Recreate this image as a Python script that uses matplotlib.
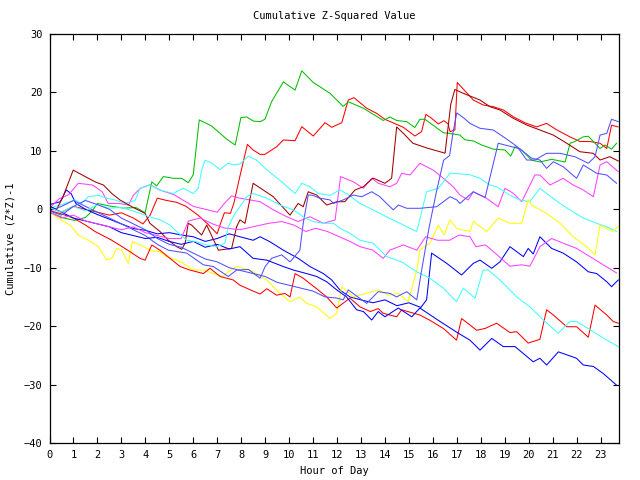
import matplotlib
matplotlib.use("Agg")
import matplotlib.pyplot as plt

# hour of day, cumulative (z*z)-1, one list per trace
green = [(0, -0.5), (0.6, -1.5), (1.05, -1.9), (1.5, -1.4), (1.8, -0.2), (2.0, 1.0), (2.6, 0.5), (3.1, 0.2),
         (3.6, 0.3), (3.78, -0.1), (3.99, -0.6), (4.27, 4.7), (4.47, 4.0), (4.75, 5.6), (5.17, 5.3), (5.52, 5.3),
         (5.79, 4.55), (6.0, 5.9), (6.25, 15.3), (6.77, 14.25), (7.4, 12.0), (7.75, 11.0), (7.99, 15.7), (8.23, 15.8),
         (8.51, 15.1), (8.79, 15.0), (8.99, 15.4), (9.27, 18.4), (9.76, 21.8), (10.25, 20.4), (10.53, 23.7),
         (11.01, 21.7), (11.71, 19.85), (12.26, 17.6), (12.47, 18.4), (13.1, 17.3), (13.93, 15.2), (14.21, 15.8),
         (14.49, 15.2), (14.91, 15.0), (15.25, 14.0), (15.46, 15.4), (15.67, 15.4), (16.44, 13.1), (16.69, 13.0),
         (17.13, 12.7), (17.34, 11.9), (17.69, 11.7), (18.04, 11.0), (18.52, 10.3), (19.01, 10.15), (19.25, 9.1),
         (19.43, 10.7), (19.71, 10.15), (20.12, 8.4), (20.47, 8.1), (20.96, 8.55), (21.52, 8.1), (21.73, 11.3),
         (21.93, 11.6), (22.28, 12.4), (22.49, 12.5), (22.98, 10.4), (23.18, 11.0), (23.46, 10.3), (23.67, 11.3)]

red_hi = [(0, 0.3), (0.5, -0.5), (1.0, 0.5), (1.5, 0.0), (2.0, -0.5), (2.5, -1.0), (3.0, -0.6), (3.5, -1.5),
          (3.9, -2.5), (4.2, -1.0), (4.5, 1.9), (4.9, 1.5), (5.3, 1.2), (5.7, 0.5), (6.2, -1.0), (6.6, -2.5),
          (7.0, -4.2), (7.15, -2.3), (7.3, -0.6), (7.55, -0.7), (7.7, 1.1), (7.85, 3.9), (8.0, 6.6), (8.26, 11.1),
          (8.5, 10.15), (8.79, 9.4), (8.99, 9.4), (9.48, 10.7), (9.76, 11.86), (10.25, 11.74), (10.53, 14.13),
          (11.01, 12.54), (11.5, 14.82), (11.78, 14.03), (12.2, 14.82), (12.47, 18.7), (12.71, 19.1), (13.24, 17.3),
          (13.66, 16.4), (14.0, 15.4), (14.77, 14.03), (15.25, 12.54), (15.53, 13.28), (15.71, 16.25),
          (15.95, 15.57), (16.23, 14.6), (16.46, 15.16), (16.64, 14.6), (16.72, 13.28), (16.92, 13.57),
          (17.02, 21.7), (17.69, 18.7), (18.1, 17.85), (18.52, 17.56), (18.94, 17.0), (19.36, 15.84), (19.85, 14.8),
          (20.33, 14.1), (20.75, 14.7), (21.17, 13.6), (21.72, 12.4), (22.14, 11.6), (22.56, 11.6), (22.98, 11.3),
          (23.26, 10.4), (23.46, 14.4), (23.73, 14.1)]

red_lo = [(0, -0.2), (0.5, -0.8), (1.0, -1.5), (1.5, -2.7), (1.9, -3.8), (2.6, -5.3), (3.15, -6.7), (3.78, -8.4),
          (3.99, -8.7), (4.27, -6.1), (4.61, -7.0), (5.03, -8.4), (5.45, -9.8), (5.86, -10.4), (6.42, -11.0),
          (6.7, -10.1), (7.12, -11.5), (7.67, -12.1), (7.95, -13.0), (8.5, -14.0), (8.79, -14.5), (9.07, -13.6),
          (9.48, -14.7), (9.83, -14.4), (10.04, -15.0), (10.25, -11.0), (10.59, -11.8), (11.15, -13.6),
          (11.57, -15.0), (11.99, -16.9), (12.54, -15.2), (12.96, -16.7), (13.39, -17.5), (13.72, -17.0),
          (13.93, -17.8), (14.49, -18.4), (14.7, -17.2), (15.46, -18.1), (15.88, -19.0), (16.44, -20.4),
          (16.99, -22.4), (17.2, -18.7), (17.55, -19.8), (17.83, -20.7), (18.18, -20.4), (18.66, -19.5),
          (19.22, -21.1), (19.5, -20.95), (19.98, -22.9), (20.47, -22.25), (20.75, -17.2), (21.03, -18.1),
          (21.59, -20.1), (22.0, -20.1), (22.49, -21.9), (22.77, -16.4), (23.26, -18.1), (23.53, -19.2),
          (23.74, -19.5)]

dark_red = [(0, 0.5), (0.3, 0.0), (0.55, 2.0), (0.99, 6.7), (1.9, 4.7), (2.25, 4.15), (2.6, 2.7), (2.94, 1.6),
            (3.5, 0.3), (3.99, -0.7), (4.19, -2.4), (4.61, -3.8), (4.96, -5.3), (5.31, -6.4), (5.52, -6.85),
            (5.66, -5.8), (5.79, -2.4), (5.93, -2.7), (6.35, -4.4), (6.56, -2.7), (7.05, -7.0), (7.6, -6.7),
            (7.81, -3.0), (7.95, -1.8), (8.16, -2.4), (8.5, 4.45), (8.92, 3.3), (9.34, 2.15), (10.04, -1.0),
            (10.38, 1.0), (10.59, 0.44), (10.8, 3.0), (11.15, 2.44), (11.57, 0.73), (11.99, 1.3), (12.33, 1.3),
            (12.75, 3.3), (13.1, 3.86), (13.5, 5.35), (14.0, 4.45), (14.28, 5.3), (14.49, 14.1), (14.77, 13.0),
            (15.17, 11.3), (15.74, 10.5), (16.3, 9.85), (16.51, 9.6), (16.75, 18.0), (16.92, 20.5), (17.3, 19.8),
            (17.97, 18.7), (18.38, 17.56), (18.8, 17.0), (19.36, 15.57), (19.92, 14.42), (20.47, 13.57),
            (21.03, 12.7), (21.59, 11.3), (22.14, 9.85), (22.7, 9.58), (22.98, 8.43), (23.39, 9.0), (23.74, 8.26)]

yellow = [(0, -0.3), (0.35, -1.5), (0.86, -2.7), (1.2, -4.4), (1.62, -5.3), (2.04, -6.4), (2.39, -8.7), (2.6, -8.4),
          (2.8, -6.7), (3.01, -7.0), (3.29, -9.25), (3.46, -5.55), (3.78, -6.1), (4.19, -7.0), (4.61, -7.3),
          (4.89, -8.1), (5.31, -8.7), (5.58, -9.25), (6.0, -10.4), (6.49, -10.4), (6.98, -11.25), (7.25, -11.5),
          (7.46, -10.7), (7.81, -9.8), (8.37, -10.4), (9.07, -12.1), (9.62, -14.4), (10.04, -15.8), (10.45, -15.0),
          (10.73, -16.1), (11.15, -16.7), (11.71, -18.7), (11.99, -17.8), (12.2, -13.25), (12.68, -15.0),
          (13.72, -13.8), (14.14, -14.7), (14.56, -14.4), (14.97, -15.8), (15.33, -10.4), (15.46, -7.0),
          (15.88, -5.8), (16.23, -2.7), (16.47, -4.4), (16.72, -1.8), (17.0, -3.3), (17.55, -3.8), (17.69, -2.1),
          (18.25, -3.8), (18.73, -1.5), (19.22, -2.4), (19.71, -2.4), (19.98, 1.6), (20.13, 0.7), (20.75, -0.7),
          (21.31, -2.4), (21.86, -4.7), (22.42, -6.4), (22.77, -7.8), (22.98, -2.7), (23.26, -3.3), (23.53, -3.8),
          (23.74, -2.9)]

cyan_hi = [(0, 0.2), (0.5, 0.8), (1.06, 1.6), (1.34, 1.0), (1.62, 2.15), (2.04, 2.4), (2.39, 1.9), (2.73, 1.6),
           (3.15, 1.0), (3.57, 1.5), (3.78, 3.6), (4.19, 4.15), (4.61, 3.3), (5.17, 2.7), (5.58, 3.6), (6.0, 2.7),
           (6.21, 3.6), (6.35, 6.7), (6.49, 8.4), (6.77, 7.9), (7.12, 6.8), (7.46, 7.9), (7.67, 7.6), (7.95, 7.75),
           (8.3, 9.1), (8.65, 8.4), (9.0, 7.0), (9.76, 4.45), (10.25, 2.7), (10.53, 4.45), (10.87, 3.86),
           (11.22, 2.7), (11.71, 2.4), (12.12, 3.3), (12.4, 2.7), (12.96, 1.0), (13.51, -0.1), (14.07, -1.3),
           (14.63, -2.4), (15.18, -3.55), (15.33, -3.8), (15.74, 3.0), (16.23, 3.6), (16.72, 6.2), (17.55, 5.9),
           (17.97, 5.3), (18.38, 4.15), (18.66, 3.86), (19.22, 2.4), (19.64, 1.6), (20.05, 1.3), (20.47, 3.6),
           (20.75, 2.7), (21.31, 1.0), (21.72, -0.1), (22.28, -1.5), (22.84, -2.4), (23.26, -3.0), (23.67, -3.8)]

cyan_lo = [(0, 0.3), (0.5, -0.5), (1.0, 0.5), (1.5, -0.3), (2.0, 0.8), (2.5, 0.2), (3.0, 0.3), (3.5, -0.3),
           (3.78, -0.7), (4.19, -1.3), (4.61, -1.8), (5.03, -2.7), (5.31, -3.8), (5.73, -5.3), (6.14, -5.55),
           (6.56, -6.1), (6.98, -6.4), (7.32, -5.8), (7.46, -3.0), (7.74, -0.7), (7.95, 0.44), (8.23, 2.15),
           (8.5, 2.7), (9.07, 1.9), (9.62, 0.73), (10.18, -0.1), (10.59, -1.3), (11.01, -2.1), (11.43, -2.4),
           (11.85, -2.4), (12.12, -3.25), (12.54, -4.1), (12.96, -5.3), (13.51, -5.8), (14.07, -8.1), (14.7, -9.0),
           (15.33, -10.7), (15.88, -11.8), (16.44, -13.5), (16.99, -15.8), (17.27, -13.5), (17.76, -15.2),
           (18.1, -10.4), (18.31, -10.4), (18.8, -12.1), (19.5, -15.0), (20.05, -16.7), (20.61, -18.95),
           (21.24, -21.2), (21.72, -19.2), (22.0, -19.2), (22.7, -20.95), (23.26, -22.4), (23.74, -23.5)]

magenta_hi = [(0, 0.2), (0.4, 1.8), (0.8, 2.5), (1.2, 4.45), (1.8, 4.15), (2.2, 3.0), (2.45, 1.0), (2.9, 1.0),
              (3.3, 0.7), (3.5, 2.4), (3.8, 3.6), (4.2, 4.2), (4.6, 3.3), (5.2, 2.5), (5.6, 1.5), (6.0, 0.5),
              (6.5, 0.0), (7.0, -0.5), (7.3, 1.0), (7.6, 2.3), (7.95, 1.9), (8.37, 1.6), (8.79, 1.3), (9.34, -0.1),
              (9.9, -1.27), (10.38, -2.1), (10.87, -1.27), (11.43, -2.4), (11.92, -1.84), (12.15, 5.6),
              (12.68, 4.7), (13.1, 3.6), (13.45, 5.3), (13.72, 4.45), (14.21, 3.86), (14.49, 4.45), (14.7, 6.16),
              (15.05, 5.87), (15.46, 7.87), (16.02, 6.7), (16.44, 5.3), (16.85, 3.86), (17.13, 2.44), (17.48, 1.6),
              (17.69, 3.0), (18.2, 2.0), (18.73, 0.44), (19.01, 3.6), (19.36, 2.73), (19.71, 1.3), (20.26, 5.87),
              (20.47, 5.87), (20.89, 4.15), (21.44, 5.3), (21.86, 4.15), (22.28, 3.3), (22.7, 2.15), (22.98, 7.58),
              (23.26, 8.14), (23.74, 6.43)]

magenta_lo = [(0, -0.5), (0.5, -1.5), (1.0, -1.0), (1.5, -2.0), (2.0, -2.5), (2.5, -3.0), (3.0, -3.5), (3.5, -3.0),
              (4.0, -4.0), (4.5, -4.5), (5.0, -5.0), (5.5, -5.0), (5.8, -2.0), (6.3, -1.5), (6.8, -2.5),
              (7.3, -3.2), (7.95, -3.5), (8.6, -2.9), (9.15, -2.4), (9.7, -2.1), (10.2, -2.7), (10.7, -3.8),
              (11.1, -3.25), (11.6, -3.8), (12.1, -4.7), (12.54, -5.5), (12.96, -6.4), (13.5, -7.0), (13.93, -8.4),
              (14.2, -7.0), (14.77, -6.1), (15.33, -7.0), (15.7, -4.7), (16.2, -5.3), (16.7, -5.3), (17.1, -4.4),
              (17.55, -4.7), (17.8, -6.4), (18.2, -6.1), (18.6, -7.5), (19.22, -9.75), (19.71, -9.5), (20.05, -9.75),
              (20.47, -6.4), (20.96, -5.0), (21.44, -5.8), (22.0, -6.7), (22.56, -8.1), (23.11, -9.5),
              (23.67, -10.9)]

blue_a = [(0, 0.8), (0.45, 1.3), (0.7, 3.3), (0.9, 2.7), (1.1, 1.0), (1.5, 0.0), (2.0, -0.9), (2.5, -1.7),
          (3.0, -2.5), (3.5, -3.3), (4.0, -3.6), (4.5, -4.2), (5.0, -4.0), (5.5, -4.4), (6.0, -4.7), (6.5, -5.5),
          (7.0, -5.0), (7.5, -4.2), (7.95, -4.7), (8.5, -5.3), (8.79, -4.7), (9.2, -5.55), (9.76, -7.0),
          (10.38, -8.4), (10.87, -9.8), (11.43, -11.0), (11.78, -12.1), (12.12, -13.8), (12.54, -15.0),
          (13.0, -15.5), (13.5, -16.0), (14.0, -15.5), (14.5, -16.5), (15.0, -16.0), (15.5, -16.8), (15.74, -15.5),
          (15.95, -7.5), (16.58, -9.25), (17.2, -11.25), (17.69, -9.25), (17.97, -8.7), (18.46, -10.1),
          (18.8, -9.0), (19.22, -6.4), (19.78, -8.1), (19.98, -6.7), (20.19, -7.65), (20.47, -4.7), (20.96, -6.7),
          (21.44, -7.5), (22.0, -9.0), (22.49, -10.7), (22.84, -11.0), (23.26, -12.4), (23.46, -13.25),
          (23.74, -12.1)]

blue_b = [(0, 0.5), (0.5, -0.5), (1.0, -1.5), (1.5, -2.0), (2.0, -2.5), (2.5, -3.0), (3.0, -4.0), (3.5, -4.5),
          (4.0, -5.0), (4.5, -4.8), (5.0, -5.5), (5.5, -6.0), (6.0, -5.5), (6.5, -6.5), (7.0, -6.0), (7.5, -6.8),
          (7.95, -6.4), (8.5, -8.4), (9.07, -8.7), (9.76, -9.8), (10.18, -10.4), (10.73, -11.0), (11.15, -11.5),
          (11.57, -12.4), (11.99, -13.8), (12.4, -15.0), (12.82, -17.2), (13.1, -17.5), (13.45, -18.95),
          (13.72, -17.5), (14.0, -18.4), (14.56, -16.9), (15.12, -18.4), (15.46, -16.9), (16.3, -19.2),
          (17.06, -21.2), (17.55, -22.4), (17.97, -24.1), (18.46, -22.1), (18.94, -23.5), (19.43, -23.5),
          (20.19, -26.1), (20.47, -25.5), (20.75, -26.65), (21.24, -24.4), (22.0, -25.5), (22.28, -26.65),
          (22.7, -26.9), (23.11, -28.1), (23.67, -30.1)]

light_blue_a = [(0, -0.3), (0.5, 0.5), (1.0, 1.5), (1.5, 0.5), (2.0, -0.5), (2.5, -1.5), (3.0, -2.5), (3.5, -3.5),
                (4.0, -4.5), (4.5, -6.0), (4.96, -7.0), (5.73, -7.5), (6.42, -9.5), (6.84, -9.8), (7.46, -11.5),
                (7.81, -10.4), (8.3, -10.3), (8.79, -11.8), (9.0, -9.8), (9.27, -8.4), (9.69, -7.8), (10.04, -9.0),
                (10.45, -7.0), (10.59, -2.4), (10.8, 2.44), (10.94, 2.44), (11.29, 1.9), (11.71, 1.6), (11.85, 1.0),
                (12.26, 1.6), (12.68, 2.44), (13.03, 2.15), (13.45, 3.0), (13.79, 2.15), (14.07, 1.0), (14.35, -0.1),
                (14.56, 0.73), (14.91, 0.17), (15.46, 0.17), (16.16, 0.44), (16.72, 2.15), (17.0, 1.6), (17.13, 1.0),
                (17.69, 3.0), (18.18, 2.0), (18.73, 11.3), (19.01, 11.0), (19.57, 10.44), (19.92, 8.43),
                (20.26, 8.43), (20.75, 9.58), (21.31, 9.58), (21.93, 9.0), (22.49, 7.87), (22.77, 9.0),
                (22.98, 12.7), (23.26, 13.0), (23.46, 15.4), (23.74, 15.0)]

light_blue_b = [(0, -0.3), (0.5, -1.0), (1.0, 0.5), (1.5, 1.5), (2.0, 0.8), (2.5, 0.0), (3.0, -1.5), (3.5, -2.5),
                (4.0, -3.5), (4.5, -5.0), (5.0, -6.0), (5.5, -6.5), (6.0, -7.5), (6.5, -8.5), (7.0, -9.0),
                (7.5, -10.0), (8.0, -10.5), (8.5, -11.0), (9.0, -11.5), (9.5, -12.5), (10.0, -13.0), (10.5, -13.5),
                (11.0, -14.0), (11.5, -15.0), (12.0, -15.2), (12.26, -15.5), (12.47, -13.8), (13.24, -16.1),
                (13.72, -14.1), (14.21, -14.4), (14.49, -15.0), (14.91, -14.1), (15.33, -15.5), (15.55, -10.0),
                (15.85, -3.0), (16.15, 3.0), (16.45, 8.4), (16.7, 9.2), (16.85, 13.3), (17.0, 16.5), (17.3, 15.6),
                (17.55, 14.7), (17.97, 13.86), (18.52, 13.57), (18.94, 12.42), (19.43, 11.0), (19.78, 9.86),
                (20.13, 8.73), (20.47, 8.43), (20.75, 7.0), (21.03, 8.14), (21.44, 7.29), (22.0, 5.3), (22.28, 7.58),
                (22.84, 6.16), (23.26, 5.87), (23.67, 4.45)]

traces = [
    (red_hi, "#ff0000"), (green, "#00c000"), (blue_a, "#0000ff"), (magenta_hi, "#ff40ff"),
    (cyan_hi, "#40ffff"), (dark_red, "#a00000"), (yellow, "#ffff00"), (light_blue_a, "#5050ff"),
    (red_lo, "#ff0000"), (blue_b, "#0000ff"), (magenta_lo, "#ff40ff"), (cyan_lo, "#40ffff"),
    (light_blue_b, "#5050ff"),
]

font = "DejaVu Sans Mono"

fig = plt.figure(figsize=(6.4, 4.8), dpi=100)
ax = fig.add_axes([49.5 / 640, 1 - 443 / 480, 569 / 640, 409 / 480])

for pts, col in traces:
    hours, vals = zip(*pts)
    ax.plot(hours, vals, color=col, linewidth=0.75)

ax.set_xlim(0, 23.75)
ax.set_ylim(-40, 30)
ax.set_xticks(range(0, 24))
ax.set_yticks(range(-40, 31, 10))
ax.tick_params(direction="in", top=True, right=True, length=4, width=0.8,
               labelsize=7.5, pad=5)
for lab in ax.get_xticklabels() + ax.get_yticklabels():
    lab.set_family(font)
for sp in ax.spines.values():
    sp.set_linewidth(0.9)

ax.set_title("Cumulative Z-Squared Value", fontsize=7.5, family=font, pad=11)
ax.set_xlabel("Hour of Day", fontsize=7.5, family=font, labelpad=4)
ax.set_ylabel("Cumulative (Z*Z)-1", fontsize=7.5, family=font, labelpad=6)

fig.savefig("out.png", dpi=100)
